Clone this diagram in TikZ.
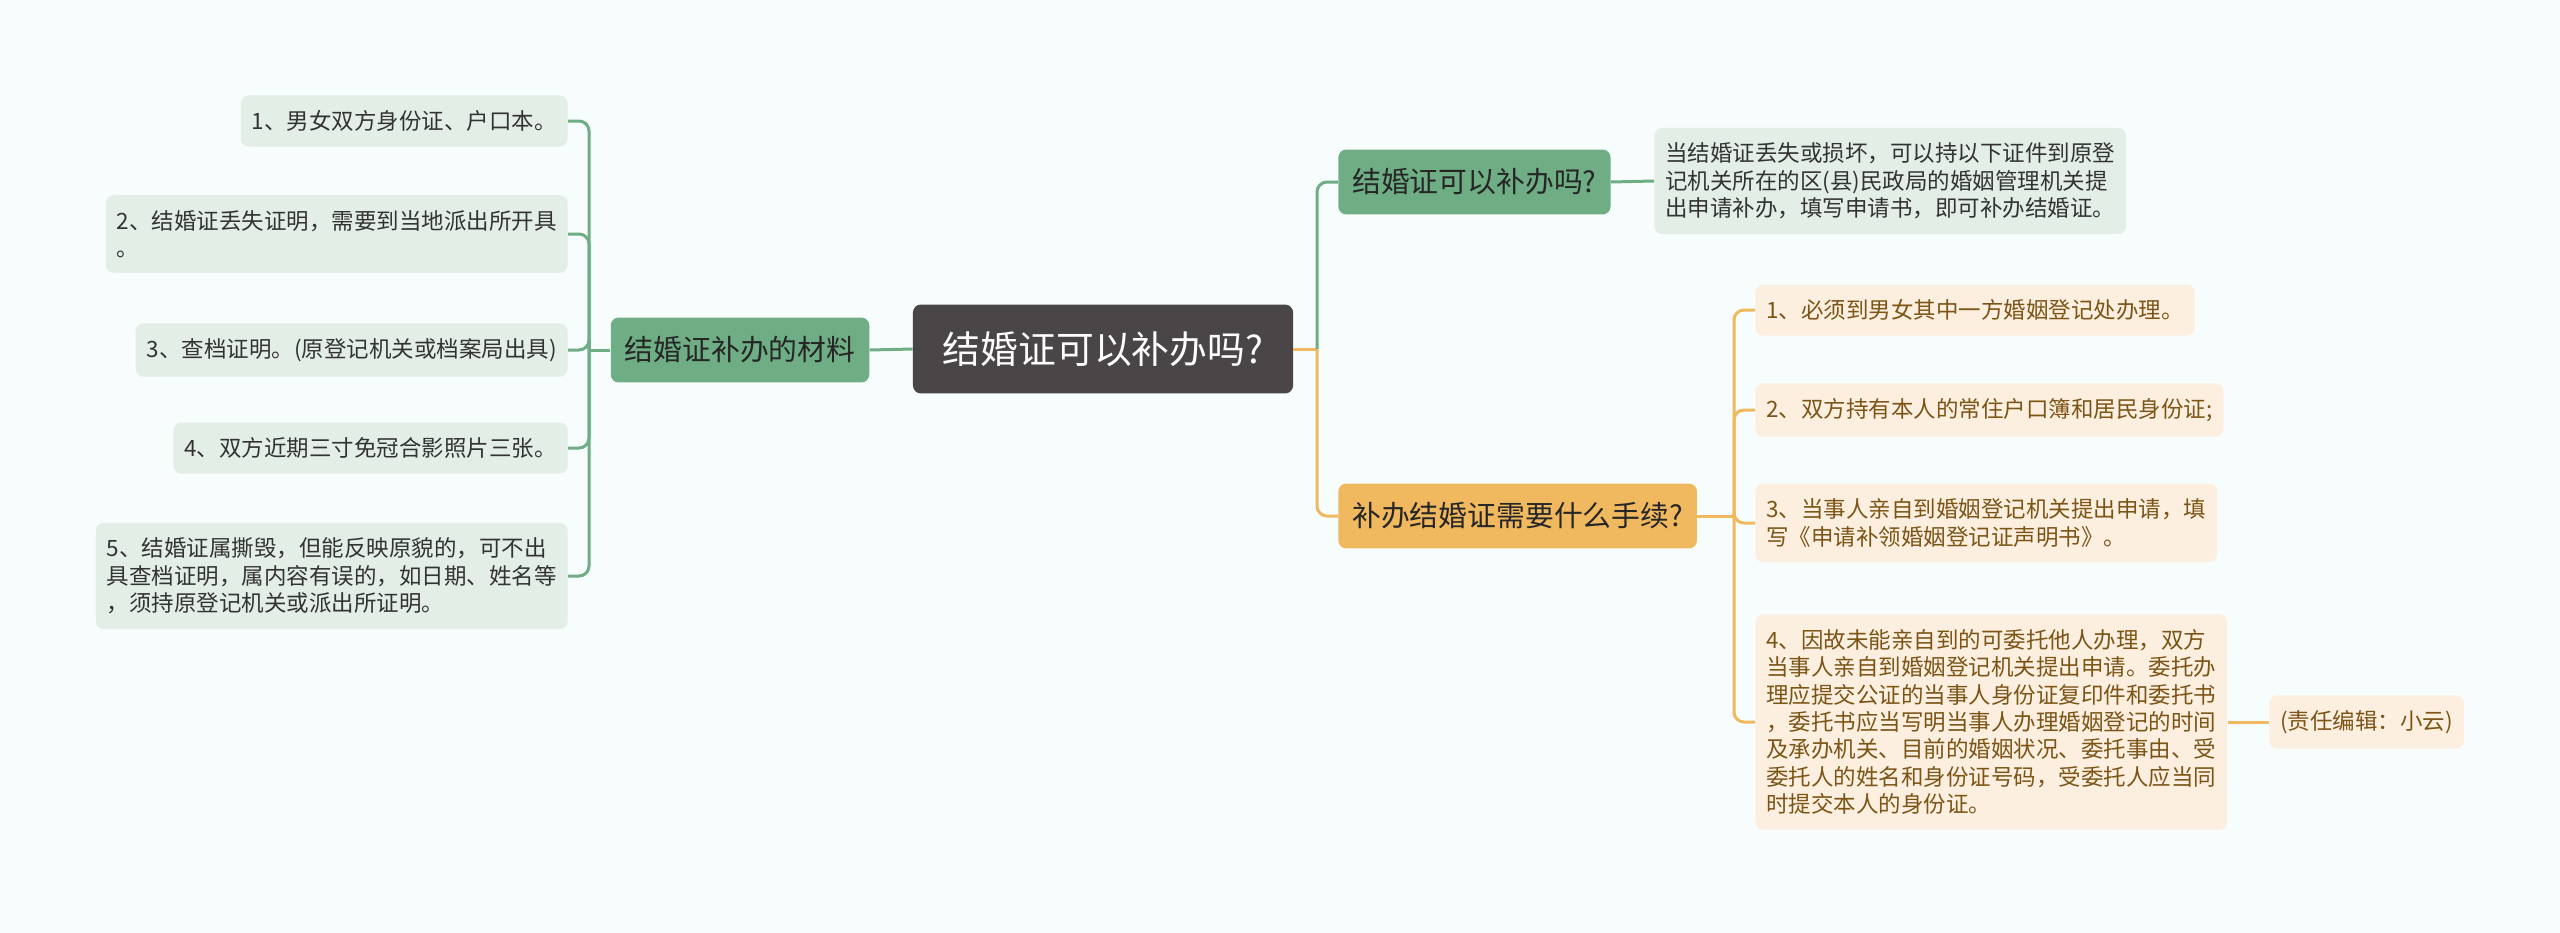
\documentclass[tikz,border=0pt]{standalone}
\usepackage{fontspec}
\setmainfont{Noto Sans CJK SC}
\usetikzlibrary{positioning}

\definecolor{bgcol}{HTML}{F7FCFC}
\definecolor{rootcol}{HTML}{4A4546}
\definecolor{grncol}{HTML}{6FAE85}
\definecolor{grnleaf}{HTML}{E3EFE6}
\definecolor{orgcol}{HTML}{F0B95F}
\definecolor{orgleaf}{HTML}{FDEFDF}
\definecolor{orgtext}{HTML}{7B5416}

\tikzset{
  rootbox/.style={fill=rootcol, text=white, rounded corners=0.16cm,
    inner xsep=0.6cm, minimum height=1.78cm, font=\fontsize{21.5pt}{26pt}\selectfont},
  grnbranch/.style={fill=grncol, text=black!85, rounded corners=0.16cm,
    inner xsep=0.28cm, minimum height=1.3cm, font=\fontsize{16.4pt}{20pt}\selectfont},
  orgbranch/.style={grnbranch, fill=orgcol},
  grnleafbox/.style={fill=grnleaf, text=black!80, rounded corners=0.16cm, align=left,
    inner xsep=0.22cm, inner ysep=0.3cm, minimum height=1.02cm,
    font=\fontsize{12.8pt}{15.6pt}\selectfont},
  orgleafbox/.style={grnleafbox, fill=orgleaf, text=orgtext},
  grnlink/.style={draw=grncol, line width=0.06cm, rounded corners=0.2cm},
  orglink/.style={grnlink, draw=orgcol}
}

\begin{document}
\begin{tikzpicture}[x=0.02cm, y=-0.02cm]
    \fill[bgcol] (0,0) rectangle (2560,933);
    \useasboundingbox (0,0) rectangle (2560,933);

    % centre
    \node[rootbox] (root) at (1103,349) {结婚证可以补办吗?};

    % left side
    \node[grnbranch] (mat) at (740,350) {结婚证补办的材料};
    \coordinate (lt) at (589,350);
    \node[grnleafbox, anchor=east] (l1) at (568,121) {1、男女双方身份证、户口本。};
    \node[grnleafbox, anchor=east] (l2) at (568,234) {2、结婚证丢失证明，需要到当地派出所开具\\。};
    \node[grnleafbox, anchor=east] (l3) at (568,350) {3、查档证明。(原登记机关或档案局出具)};
    \node[grnleafbox, anchor=east] (l4) at (568,448) {4、双方近期三寸免冠合影照片三张。};
    \node[grnleafbox, anchor=east] (l5) at (568,576) {5、结婚证属撕毁，但能反映原貌的，可不出\\具查档证明，属内容有误的，如日期、姓名等\\，须持原登记机关或派出所证明。};

    \draw[grnlink] (root.west) -- (mat.east);
    \draw[grnlink] (mat.west) -- (lt);
    \foreach \n in {l1,l2,l3,l4,l5}
        \draw[grnlink] (lt) |- (\n.east);

    % right side
    \coordinate (rt) at (1317,349);
    \node[grnbranch, anchor=west] (q1) at (1338,182) {结婚证可以补办吗?};
    \node[grnleafbox, anchor=west] (a1) at (1654,181) {当结婚证丢失或损坏，可以持以下证件到原登\\记机关所在的区(县)民政局的婚姻管理机关提\\出申请补办，填写申请书，即可补办结婚证。};
    \node[orgbranch, anchor=west] (q2) at (1338,516) {补办结婚证需要什么手续?};
    \coordinate (qt) at (1734,516);
    \node[orgleafbox, anchor=west] (r1) at (1755,310) {1、必须到男女其中一方婚姻登记处办理。};
    \node[orgleafbox, anchor=west] (r2) at (1755,410) {2、双方持有本人的常住户口簿和居民身份证;};
    \node[orgleafbox, anchor=west] (r3) at (1755,523) {3、当事人亲自到婚姻登记机关提出申请，填\\写《申请补领婚姻登记证声明书》。};
    \node[orgleafbox, anchor=west] (r4) at (1755,722) {4、因故未能亲自到的可委托他人办理，双方\\当事人亲自到婚姻登记机关提出申请。委托办\\理应提交公证的当事人身份证复印件和委托书\\，委托书应当写明当事人办理婚姻登记的时间\\及承办机关、目前的婚姻状况、委托事由、受\\委托人的姓名和身份证号码，受委托人应当同\\时提交本人的身份证。};
    \node[orgleafbox, anchor=west] (ed) at (2269,722) {(责任编辑：小云)};

    \draw[orglink] (root.east) -- (rt);
    \draw[grnlink] (rt) |- (q1.west);
    \draw[orglink] (rt) |- (q2.west);
    \draw[grnlink] (q1.east) -- (a1.west);
    \draw[orglink] (q2.east) -- (qt);
    \foreach \n in {r1,r2,r3,r4}
        \draw[orglink] (qt) |- (\n.west);
    \draw[orglink] (r4.east) -- (ed.west);
\end{tikzpicture}
\end{document}
